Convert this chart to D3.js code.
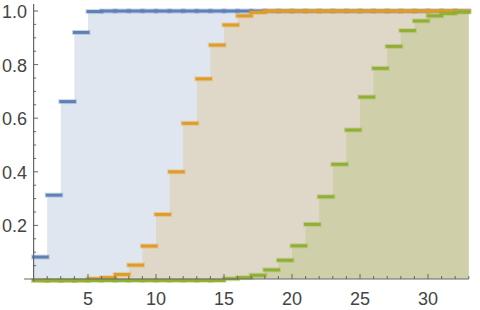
<!DOCTYPE html>
<html>
<head>
<meta charset="utf-8">
<script src="https://cdn.jsdelivr.net/npm/d3@7"></script>
<style>
    body { margin: 0; background: #fff; }
    text { font-family: "Liberation Sans", Arial, sans-serif; }
</style>
</head>
<body>
<script>
// k = 1..32, each value is held from k to k+1
const ks = d3.range(1, 33);
const blueValues = [0.082, 0.313, 0.662, 0.92, 0.998, 1, 1, 1, 1, 1, 1, 1, 1, 1, 1, 1,
                    1, 1, 1, 1, 1, 1, 1, 1, 1, 1, 1, 1, 1, 1, 1, 1];
const orangeValues = [0, 0, 0, 0, 0.001, 0.005, 0.017, 0.052, 0.123, 0.241, 0.4, 0.581, 0.747, 0.873, 0.948, 0.982,
                      0.995, 1, 1, 1, 1, 1, 1, 1, 1, 1, 1, 1, 1, 1, 1, 1];
const greenValues = [0, 0, 0, 0, 0, 0, 0, 0, 0, 0, 0, 0, 0, 0, 0.001, 0.005,
                     0.014, 0.034, 0.07, 0.124, 0.204, 0.307, 0.428, 0.556, 0.679, 0.786, 0.868, 0.927, 0.963, 0.982, 0.991, 0.996];
const xTicks = [5, 10, 15, 20, 25, 30];
const yTicks = [0.2, 0.4, 0.6, 0.8, 1.0];

const series = [
    {name: "blue", color: "#5e81b5", values: blueValues},
    {name: "orange", color: "#e19c24", values: orangeValues},
    {name: "green", color: "#8fb032", values: greenValues}
];

const w = 480;
const h = 310;
const svg = d3.select("body")
              .append("svg")
              .attr("width", w)
              .attr("height", h)

const x = d3.scaleLinear().domain([1, 33]).range([33.6, 468.8]);
const y = d3.scaleLinear().domain([0, 1]).range([279, 11]);

const area = d3.area()
               .curve(d3.curveStepAfter)
               .x(d => x(d[0]))
               .y0(y(0))
               .y1(d => y(d[1]))

// fills
series.forEach(s => {
    const pts = ks.map((k, i) => [k, s.values[i]]);
    pts.push([33, s.values[s.values.length - 1]]);
    svg.append("path")
       .attr("d", area(pts))
       .attr("fill", s.color)
       .attr("fill-opacity", 0.2)
})

// step segments
series.forEach(s => {
    const g = svg.append("g");
    const data = ks.map((k, i) => ({k: k, v: s.values[i]}));
    g.selectAll(".halo")
     .data(data)
     .enter()
     .append("line")
     .attr("x1", d => x(d.k)).attr("x2", d => x(d.k + 1))
     .attr("y1", d => y(d.v) + (d.v === 0 ? 1.5 : 0)).attr("y2", d => y(d.v) + (d.v === 0 ? 1.5 : 0))
     .attr("stroke", s.color)
     .attr("stroke-opacity", 0.3)
     .attr("stroke-width", 5)
     .attr("stroke-linecap", "square")
    g.selectAll(".seg")
     .data(data)
     .enter()
     .append("line")
     .attr("x1", d => x(d.k)).attr("x2", d => x(d.k + 1))
     .attr("y1", d => y(d.v) + (d.v === 0 ? 1.5 : 0)).attr("y2", d => y(d.v) + (d.v === 0 ? 1.5 : 0))
     .attr("stroke", s.color)
     .attr("stroke-width", 3)
     .attr("stroke-linecap", "square")
})

// axes
const axisColor = "#666";
svg.append("line")
   .attr("x1", x(0.3)).attr("x2", x(33))
   .attr("y1", y(0)).attr("y2", y(0))
   .attr("stroke", axisColor)
   .attr("stroke-width", 1.2)
svg.append("line")
   .attr("x1", x(1)).attr("x2", x(1))
   .attr("y1", y(0) + 2).attr("y2", y(1.026))
   .attr("stroke", axisColor)
   .attr("stroke-width", 1.2)

svg.selectAll(".xtick")
   .data(d3.range(2, 34))
   .enter()
   .append("line")
   .attr("x1", d => x(d)).attr("x2", d => x(d))
   .attr("y1", y(0))
   .attr("y2", d => y(0) - (d % 5 === 0 ? 5 : 3))
   .attr("stroke", axisColor)
   .attr("stroke-width", 1)

svg.selectAll(".ytick")
   .data(d3.range(1, 21).map(i => i * 0.05))
   .enter()
   .append("line")
   .attr("x1", x(1)).attr("x2", d => x(1) + (Math.abs(d * 5 - Math.round(d * 5)) < 1e-6 ? 4.5 : 2.5))
   .attr("y1", d => y(d)).attr("y2", d => y(d))
   .attr("stroke", axisColor)
   .attr("stroke-width", 1)

svg.selectAll(".xlabel")
   .data(xTicks)
   .enter()
   .append("text")
   .attr("x", d => x(d))
   .attr("y", 305)
   .attr("text-anchor", "middle")
   .attr("fill", "#444")
   .style("font-size", "18px")
   .text(d => d)

svg.selectAll(".ylabel")
   .data(yTicks)
   .enter()
   .append("text")
   .attr("x", 27)
   .attr("y", d => y(d) + 7)
   .attr("text-anchor", "end")
   .attr("fill", "#444")
   .style("font-size", "18px")
   .text(d => d.toFixed(1))
</script>
</body>
</html>
